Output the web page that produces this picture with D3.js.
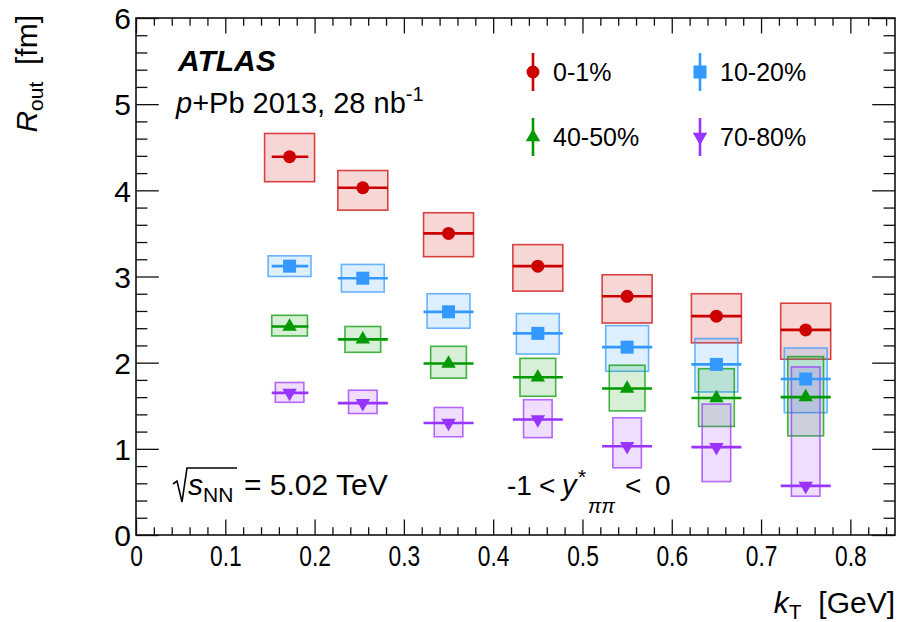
<!DOCTYPE html>
<html><head><meta charset="utf-8">
<script src="https://cdn.jsdelivr.net/npm/d3@7"></script>
<style>
body{margin:0;background:#fff}
svg{display:block}
text{font-family:"Liberation Sans",Arial,Helvetica,sans-serif;fill:#000}
</style>
</head><body>
<svg id="c" width="900" height="622"></svg>
<script>
// ---- data ----
const kT      = [0.172, 0.254, 0.350, 0.450, 0.550, 0.650, 0.750];
const kTErrLo = [0.020, 0.028, 0.028, 0.028, 0.028, 0.028, 0.028];
const kTErrHi = [0.021, 0.028, 0.028, 0.028, 0.028, 0.028, 0.028];

const centralities = ["0-1%", "10-20%", "40-50%", "70-80%"];

const rout_0_1    = [4.39, 4.03, 3.50, 3.12, 2.77, 2.54, 2.38];
const sysLo_0_1   = [4.10, 3.77, 3.23, 2.83, 2.46, 2.23, 2.04];
const sysHi_0_1   = [4.66, 4.23, 3.74, 3.37, 3.02, 2.80, 2.69];

const rout_10_20  = [3.12, 2.98, 2.59, 2.34, 2.18, 1.98, 1.81];
const sysLo_10_20 = [3.00, 2.82, 2.40, 2.10, 1.90, 1.66, 1.42];
const sysHi_10_20 = [3.24, 3.14, 2.80, 2.57, 2.43, 2.28, 2.17];

const rout_40_50  = [2.42, 2.27, 1.99, 1.83, 1.70, 1.59, 1.60];
const sysLo_40_50 = [2.31, 2.12, 1.82, 1.61, 1.44, 1.26, 1.15];
const sysHi_40_50 = [2.55, 2.42, 2.19, 2.05, 1.97, 1.93, 2.07];

const rout_70_80  = [1.65, 1.53, 1.30, 1.34, 1.03, 1.02, 0.57];
const sysLo_70_80 = [1.54, 1.41, 1.14, 1.13, 0.78, 0.62, 0.45];
const sysHi_70_80 = [1.77, 1.68, 1.48, 1.57, 1.36, 1.52, 1.95];

const sysBoxHalfWidth = [0.028, 0.024, 0.020, 0.016];

const xTickLabels = ["0","0.1","0.2","0.3","0.4","0.5","0.6","0.7","0.8"];
const yTickLabels = ["0","1","2","3","4","5","6"];

// ---- styling ----
const colors  = ["#cc0000", "#3399ff", "#009900", "#9933ff"];
const shapes  = ["circle", "square", "triUp", "triDown"];

const series = [
  {name: centralities[0], v: rout_0_1,   lo: sysLo_0_1,   hi: sysHi_0_1},
  {name: centralities[1], v: rout_10_20, lo: sysLo_10_20, hi: sysHi_10_20},
  {name: centralities[2], v: rout_40_50, lo: sysLo_40_50, hi: sysHi_40_50},
  {name: centralities[3], v: rout_70_80, lo: sysLo_70_80, hi: sysHi_70_80}
].map((s,i)=>Object.assign(s,{color:colors[i],shape:shapes[i],hw:sysBoxHalfWidth[i]}));

const svg = d3.select("#c");
const F = {l:136, r:895, t:18, b:535};
const x = d3.scaleLinear().domain([0,0.85]).range([F.l,F.r]);
const y = d3.scaleLinear().domain([0,6]).range([F.b,F.t]);

const xMajor = xTickLabels.map(Number);
const xMinor = d3.range(0, 0.851, 0.02).map(v=>+v.toFixed(3)).filter(v=>!xMajor.some(m=>Math.abs(m-v)<1e-6));
const yMajor = yTickLabels.map(Number);
const yMinor = d3.range(0, 6.01, 0.2).map(v=>+v.toFixed(3)).filter(v=>!yMajor.some(m=>Math.abs(m-v)<1e-6));

const xTL = 15.5, yTL = 22.8;
function styleAxis(g){ g.select(".domain").remove(); g.selectAll(".tick line").attr("stroke","#111").attr("stroke-width",1.3); }
const FONT = "'Liberation Sans',Arial,sans-serif";

// bottom
svg.append("g").attr("transform",`translate(0,${F.b})`)
  .call(d3.axisBottom(x).tickValues(xMajor).tickSize(-xTL).tickPadding(9).tickFormat((d,i)=>xTickLabels[i]))
  .call(styleAxis)
  .call(g=>g.selectAll("text").attr("font-size",30).attr("fill","#000").attr("dy","0.75em")
        .attr("font-family",FONT).attr("transform","scale(0.76,1)"));
svg.append("g").attr("transform",`translate(0,${F.b})`)
  .call(d3.axisBottom(x).tickValues(xMinor).tickSize(-xTL/2).tickFormat(""))
  .call(styleAxis);
// top
svg.append("g").attr("transform",`translate(0,${F.t})`)
  .call(d3.axisTop(x).tickValues(xMajor).tickSize(-xTL).tickFormat("")).call(styleAxis);
svg.append("g").attr("transform",`translate(0,${F.t})`)
  .call(d3.axisTop(x).tickValues(xMinor).tickSize(-xTL/2).tickFormat("")).call(styleAxis);
// left
svg.append("g").attr("transform",`translate(${F.l},0)`)
  .call(d3.axisLeft(y).tickValues(yMajor).tickSize(-yTL).tickPadding(5).tickFormat((d,i)=>yTickLabels[i]))
  .call(styleAxis)
  .call(g=>g.selectAll("text").attr("font-size",30).attr("fill","#000").attr("font-family",FONT).attr("dy","0.36em"));
svg.append("g").attr("transform",`translate(${F.l},0)`)
  .call(d3.axisLeft(y).tickValues(yMinor).tickSize(-yTL/2).tickFormat("")).call(styleAxis);
// right
svg.append("g").attr("transform",`translate(${F.r},0)`)
  .call(d3.axisRight(y).tickValues(yMajor).tickSize(-yTL).tickFormat("")).call(styleAxis);
svg.append("g").attr("transform",`translate(${F.r},0)`)
  .call(d3.axisRight(y).tickValues(yMinor).tickSize(-yTL/2).tickFormat("")).call(styleAxis);

// frame
svg.append("rect").attr("x",F.l).attr("y",F.t).attr("width",F.r-F.l).attr("height",F.b-F.t)
  .attr("fill","none").attr("stroke","#111").attr("stroke-width",1.6);

// ---- systematic boxes ----
const gBox = svg.append("g");
series.forEach(s=>{
  gBox.selectAll(null).data(kT.map((k,i)=>({k,lo:s.lo[i],hi:s.hi[i]}))).join("rect")
    .attr("x",d=>x(d.k-s.hw)).attr("width",d=>x(d.k+s.hw)-x(d.k-s.hw))
    .attr("y",d=>y(d.hi)).attr("height",d=>y(d.lo)-y(d.hi))
    .attr("fill",s.color).attr("fill-opacity",0.16)
    .attr("stroke",s.color).attr("stroke-opacity",0.72).attr("stroke-width",1.6);
});

// ---- markers + x error bars ----
function symbolPath(shape){
  if(shape==="circle") return d3.symbol(d3.symbolCircle, Math.PI*6.5*6.5)();
  if(shape==="square") return d3.symbol(d3.symbolSquare, 13*13)();
  return d3.symbol(d3.symbolTriangle, 90)();
}
const gPts = svg.append("g");
series.forEach(s=>{
  const d = kT.map((k,i)=>({k,v:s.v[i],el:kTErrLo[i],eh:kTErrHi[i]}));
  gPts.selectAll(null).data(d).join("line")
    .attr("x1",p=>x(p.k-p.el)).attr("x2",p=>x(p.k+p.eh))
    .attr("y1",p=>y(p.v)).attr("y2",p=>y(p.v))
    .attr("stroke",s.color).attr("stroke-width",2.6);
  gPts.selectAll(null).data(d).join("path")
    .attr("d",symbolPath(s.shape))
    .attr("transform",p=>`translate(${x(p.k)},${y(p.v)})`+(s.shape==="triDown"?" rotate(180)":""))
    .attr("fill",s.color);
});

// ---- legend ----
const legPos = [[533,72],[700,72],[533,137],[700,137]];
series.forEach((s,i)=>{
  const [lx,ly]=legPos[i];
  const g = svg.append("g");
  g.append("line").attr("x1",lx).attr("x2",lx).attr("y1",ly-19).attr("y2",ly+19)
    .attr("stroke",s.color).attr("stroke-width",2.6);
  g.append("path").attr("d",symbolPath(s.shape))
    .attr("transform",`translate(${lx},${ly})`+(s.shape==="triDown"?" rotate(180)":"")).attr("fill",s.color);
  g.append("text").attr("x",lx+20).attr("y",ly+9).attr("font-size",25).text(s.name);
});

// ---- labels ----
svg.append("text").attr("x",178).attr("y",71).attr("font-size",30)
  .attr("font-weight","bold").attr("font-style","italic").text("ATLAS");

const t2 = svg.append("text").attr("x",176).attr("y",113).attr("font-size",29);
t2.append("tspan").attr("font-style","italic").text("p");
t2.append("tspan").text("+Pb 2013, 28 nb");
t2.append("tspan").attr("font-size",20).attr("dy",-12).text("-1");

// sqrt(s_NN) = 5.02 TeV
svg.append("path").attr("d","M173,484 L177,481 L182,502 L187,468 L237,468")
  .attr("fill","none").attr("stroke","#000").attr("stroke-width",1.6);
const t3 = svg.append("text").attr("x",188).attr("y",495).attr("font-size",30);
t3.append("tspan").attr("font-style","italic").text("s");
t3.append("tspan").attr("font-size",21).attr("dy",7).text("NN");
svg.append("text").attr("x",244).attr("y",495).attr("font-size",30).text("= 5.02 TeV");

// -1 < y*_pipi < 0
svg.append("text").attr("x",507).attr("y",495).attr("font-size",28).text("-1");
svg.append("text").attr("x",539).attr("y",495).attr("font-size",28).text("<");
svg.append("text").attr("x",562).attr("y",495).attr("font-size",29).attr("font-style","italic").text("y");
svg.append("text").attr("x",578).attr("y",484).attr("font-size",21).text("*");
svg.append("text").attr("x",588).attr("y",513).attr("font-size",20).attr("font-style","italic").text("ππ");
svg.append("text").attr("x",625).attr("y",495).attr("font-size",28).text("<");
svg.append("text").attr("x",655).attr("y",495).attr("font-size",28).text("0");

// y title
const yt = svg.append("text").attr("transform","translate(37,15) rotate(-90)")
  .attr("text-anchor","end").attr("font-size",30);
yt.append("tspan").attr("font-style","italic").text("R");
yt.append("tspan").attr("font-size",21).attr("dy",6).text("out");
yt.append("tspan").attr("dy",-6).text("\u00a0 [fm]");

// x title
const xt = svg.append("text").attr("x",895).attr("y",613).attr("text-anchor","end").attr("font-size",30);
xt.append("tspan").attr("font-style","italic").text("k");
xt.append("tspan").attr("font-size",21).attr("dy",6).text("T");
xt.append("tspan").attr("dy",-6).text("\u00a0 [GeV]");
</script>
</body></html>
